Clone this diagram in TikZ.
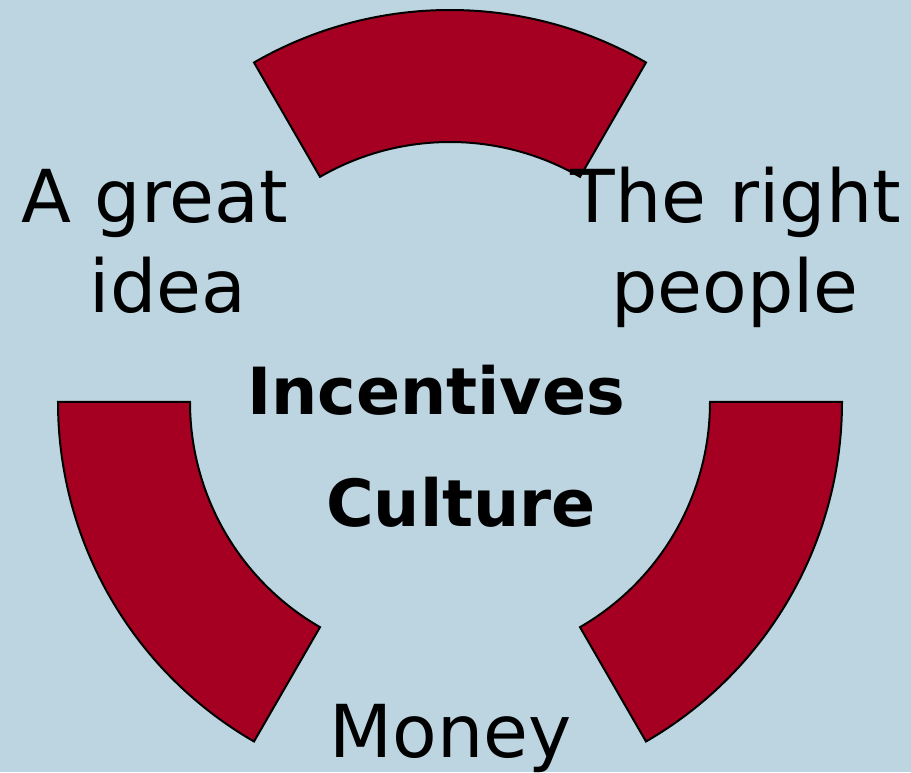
\documentclass[tikz,border=0pt]{standalone}
\usepackage{fontspec}
\setmainfont{DejaVu Sans}
\definecolor{bgblue}{RGB}{189,213,224}
\definecolor{segred}{RGB}{165,0,33}
\begin{document}
\begin{tikzpicture}[x=1pt,y=1pt,
  segment/.style={fill=segred,draw=black,line width=2pt,line join=miter},
  lbl/.style={font=\fontsize{73}{90}\selectfont,anchor=base,inner sep=0pt},
  boldlbl/.style={font=\fontsize{65}{70}\selectfont\bfseries,anchor=base,inner sep=0pt}]
\useasboundingbox (0,0) rectangle (911,772);
\clip (0,0) rectangle (911,772);
\fill[bgblue] (0,0) rectangle (911,772);
\coordinate (c) at (450,370);
% three annular segments
\foreach \a/\n in {60/top,180/left,300/right}{
  \draw[segment] ([shift={(\a:392)}]c) arc[start angle=\a,end angle=\a+60,radius=392]
    -- ([shift={(\a+60:260)}]c) arc[start angle=\a+60,end angle=\a,radius=260] -- cycle;
}
\node[lbl] (ideaA) at (155,549) {A great};
\node[lbl] (ideaB) at (168,459) {idea};
\node[lbl] (peopleA) at (736,549) {The right};
\node[lbl] (peopleB) at (735,459) {people};
\node[lbl] (money) at (451,15) {Money};
\node[boldlbl] (incent) at (436,357) {Incentives};
\node[boldlbl] (culture) at (461,245) {Culture};
\end{tikzpicture}
\end{document}
